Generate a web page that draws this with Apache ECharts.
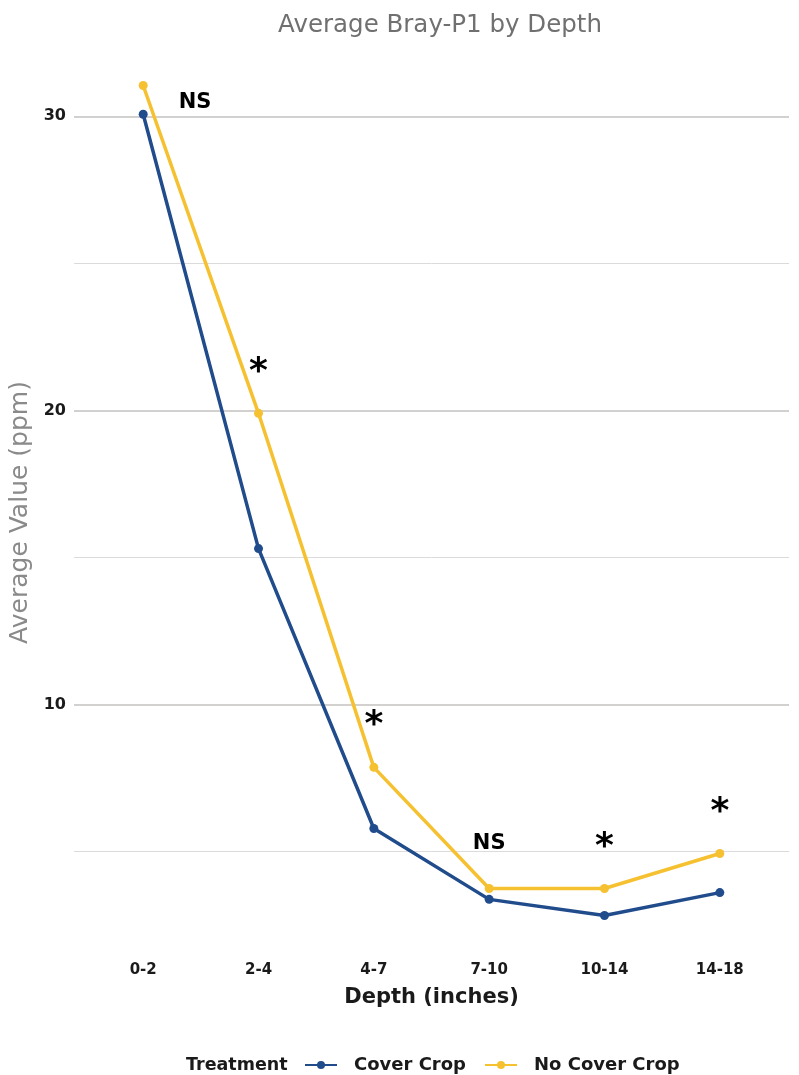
<!DOCTYPE html>
<html>
<head>
<meta charset="utf-8">
<script src="https://cdn.jsdelivr.net/npm/echarts@6/dist/echarts.min.js"></script>
<style>
  html, body { margin: 0; padding: 0; background: #fff; }
  #chart { width: 799px; height: 1075px; }
</style>
</head>
<body>
<div id="chart"></div>
<script>
// Depth intervals (inches)
const depths = ['0-2', '2-4', '4-7', '7-10', '10-14', '14-18'];
// Average Bray-P1 (ppm) per treatment
const coverCrop = [30.07, 15.3, 5.78, 3.37, 2.82, 3.6];
const noCoverCrop = [31.05, 19.9, 7.86, 3.74, 3.74, 4.93];
// Significance labels placed above each depth
const annoX = [0.45, 1, 2, 3, 4, 5];
const annoY = [30.48, 21.29, 9.29, 5.27, 5.14, 6.33];
const annoText = ['NS', '*', '*', 'NS', '*', '*'];
// Gridline values
const majorTicks = [10, 20, 30];
const minorTicks = [5, 15, 25];

const FONT = '"DejaVu Sans", sans-serif';
const BLUE = '#214c8c';
const GOLD = '#f6c131';
const INK = '#1a1a1a';

const chart = echarts.init(document.getElementById('chart'), null, { renderer: 'canvas' });

const gridLines = [];
minorTicks.forEach(v => gridLines.push({ yAxis: v, lineStyle: { color: '#dcdada', width: 1, type: 'solid' } }));
majorTicks.forEach(v => gridLines.push({ yAxis: v, lineStyle: { color: '#c4c0c0', width: 1.6, type: 'solid' } }));

const lineSeries = (name, values, color) => ({
  name,
  type: 'line',
  data: values.map((v, i) => [i, v]),
  symbol: 'circle',
  symbolSize: 9,
  lineStyle: { color, width: 3.5 },
  itemStyle: { color },
  z: 3
});

chart.setOption({
  animation: false,
  title: {
    text: 'Average Bray-P1 by Depth',
    left: 435,
    top: 8,
    textAlign: 'center',
    textStyle: { fontFamily: FONT, fontSize: 24.5, fontWeight: 'normal', color: '#707070' }
  },
  grid: { left: 74, right: 10, top: 44, bottom: 118, outerBoundsMode: 'none', containLabel: false },
  legend: {
    data: [{ name: 'Cover Crop' }, { name: 'No Cover Crop' }],
    left: 299,
    top: 1051,
    itemWidth: 32,
    itemHeight: 10,
    itemGap: 18,
    textStyle: { fontFamily: FONT, fontSize: 18, fontWeight: 'bold', color: INK, padding: [0, 0, 0, 12] }
  },
  graphic: [{
    type: 'text',
    left: 186,
    top: 1056,
    style: { text: 'Treatment', fontFamily: FONT, fontSize: 17.5, fontWeight: 'bold', fill: INK }
  }],
  xAxis: {
    type: 'value',
    min: -0.6,
    max: 5.6,
    name: 'Depth (inches)',
    nameLocation: 'middle',
    nameGap: 30,
    nameTextStyle: { fontFamily: FONT, fontSize: 21, fontWeight: 'bold', color: INK },
    axisLine: { show: false },
    axisTick: { show: false },
    splitLine: { show: false },
    axisLabel: {
      customValues: [0, 1, 2, 3, 4, 5],
      formatter: v => depths[Math.round(v)],
      margin: 6,
      fontFamily: FONT, fontSize: 15, fontWeight: 'bold', color: INK
    }
  },
  yAxis: {
    type: 'value',
    min: 1.41,
    max: 32.46,
    name: 'Average Value (ppm)',
    nameLocation: 'middle',
    nameGap: 39,
    nameTextStyle: { fontFamily: FONT, fontSize: 25, color: '#8a8a8a', padding: [0, 24, 0, 0] },
    axisLine: { show: false },
    axisTick: { show: false },
    splitLine: { show: false },
    axisLabel: {
      customValues: majorTicks,
      margin: 8,
      fontFamily: FONT, fontSize: 16, fontWeight: 'bold', color: INK
    }
  },
  series: [
    {
      name: 'grid',
      type: 'line',
      data: [],
      silent: true,
      z: 1,
      markLine: { symbol: 'none', silent: true, z: 1, label: { show: false }, data: gridLines }
    },
    lineSeries('Cover Crop', coverCrop, BLUE),
    lineSeries('No Cover Crop', noCoverCrop, GOLD),
    {
      name: 'signif',
      type: 'scatter',
      data: annoX.map((x, i) => [x, annoY[i], annoText[i]]),
      symbolSize: 0,
      silent: true,
      z: 4,
      itemStyle: { opacity: 1 },
      label: {
        show: true,
        position: 'inside',
        formatter: p => p.value[2] === '*' ? '{s|*}' : '{n|NS}',
        rich: {
          s: { fontFamily: FONT, fontSize: 36, fontWeight: 'bold', color: '#000' },
          n: { fontFamily: FONT, fontSize: 21, fontWeight: 'bold', color: '#000' }
        }
      }
    }
  ]
});
</script>
</body>
</html>
